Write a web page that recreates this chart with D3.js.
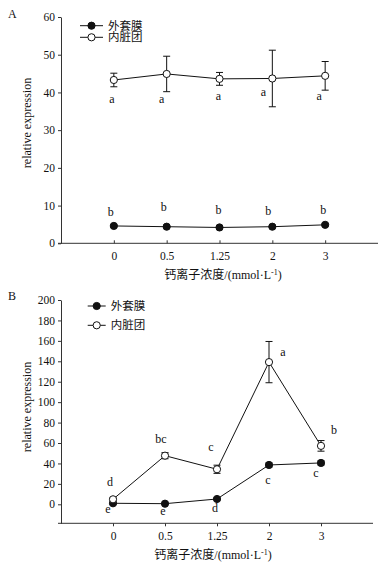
<!DOCTYPE html>
<html>
<head>
<meta charset="utf-8">
<script src="https://cdn.jsdelivr.net/npm/d3@7"></script>
<style>
body { margin: 0; background: #fff; }
svg text { font-family: "Liberation Serif", "Noto Sans CJK SC", serif; fill: #111; }
</style>
</head>
<body>
<div id="chart"></div>
<script>
// 数据
var categories = ["0", "0.5", "1.25", "2", "3"];
var seriesNames = ["外套膜", "内脏团"];

// A
var aMantle = [4.6, 4.4, 4.2, 4.4, 4.9];
var aMantleErr = [0.3, 0.2, 0.2, 0.2, 0.3];
var aMantleLbl = ["b", "b", "b", "b", "b"];
var aVisceral = [43.3, 44.9, 43.6, 43.7, 44.4];
var aVisceralErr = [1.8, 4.7, 1.7, 7.5, 3.8];
var aVisceralLbl = ["a", "a", "a", "a", "a"];
var aTicks = [0, 10, 20, 30, 40, 50, 60];

// B
var bMantle = [1.0, 0.6, 5.2, 38.5, 40.5];
var bMantleErr = [1.0, 0.5, 1.0, 2.0, 2.0];
var bMantleLbl = ["e", "e", "d", "c", "c"];
var bVisceral = [4.9, 47.6, 34.3, 139.2, 57.2];
var bVisceralErr = [1.5, 3.0, 4.0, 20.2, 5.2];
var bVisceralLbl = ["d", "bc", "c", "a", "b"];
var bTicks = [0, 20, 40, 60, 80, 100, 120, 140, 160, 180, 200];

var svg = d3.select("#chart").append("svg")
    .attr("width", 384).attr("height", 564);
svg.append("rect").attr("width", 384).attr("height", 564).attr("fill", "#fff");

function drawPanel(opt) {
    var g = svg.append("g");
    var x = d3.scaleLinear().domain([-1, 5]).range([opt.x0, opt.x1]);
    var y = d3.scaleLinear().domain(opt.yDomain).range([opt.yBottom, opt.yTop]);

    // 坐标轴
    var yAxis = d3.axisLeft(y).tickValues(opt.yTicks).tickSize(3).tickPadding(3).tickSizeOuter(0);
    var gy = g.append("g").attr("transform", "translate(" + opt.x0 + ",0)").call(yAxis);
    gy.selectAll("text").style("font-size", "11.5px");
    var xAxis = d3.axisBottom(x).tickValues([0, 1, 2, 3, 4])
        .tickFormat(function(d) { return categories[d]; })
        .tickSize(opt.xTickIn ? -3 : 3).tickPadding(opt.xTickIn ? 9 : 6).tickSizeOuter(0);
    var gx = g.append("g").attr("transform", "translate(0," + opt.yBottom + ")").call(xAxis);
    gx.selectAll("text").style("font-size", "11.5px");
    gx.select(".domain").attr("d", "M" + (opt.x0 - 3) + ",0H" + opt.x1);
    g.selectAll(".domain, .tick line").attr("stroke", "#333");

    // 轴标题
    g.append("text")
        .attr("transform", "translate(" + opt.yTitleX + "," + opt.yTitleY + ") rotate(-90)")
        .attr("text-anchor", "middle").attr("dy", "0.35em")
        .style("font-size", "12px").text("relative expression");
    var xt = g.append("text").attr("x", opt.xTitleX).attr("y", opt.xTitleY)
        .attr("text-anchor", "middle").style("font-size", "12px");
    xt.append("tspan").text("钙离子浓度/(mmol·L");
    xt.append("tspan").attr("dy", -4).style("font-size", "8px").text("-1");
    xt.append("tspan").attr("dy", 4).text(")");

    g.append("text").attr("x", opt.letterX).attr("y", opt.letterY)
        .style("font-size", "12px").text(opt.letter);

    var line = d3.line().x(function(d, i) { return x(i); }).y(function(d) { return y(d); });

    opt.series.forEach(function(s) {
        var sg = g.append("g");
        sg.append("path").datum(s.values).attr("d", line)
            .attr("fill", "none").attr("stroke", "#111").attr("stroke-width", 1);
        // 误差线
        s.values.forEach(function(v, i) {
            var e = s.err[i];
            var cx = x(i);
            sg.append("path")
                .attr("d", "M" + cx + "," + y(v - e) + "V" + y(v + e) +
                    "M" + (cx - 3.5) + "," + y(v - e) + "H" + (cx + 3.5) +
                    "M" + (cx - 3.5) + "," + y(v + e) + "H" + (cx + 3.5))
                .attr("stroke", "#111").attr("stroke-width", 1).attr("fill", "none");
        });
        sg.selectAll("circle").data(s.values).enter().append("circle")
            .attr("cx", function(d, i) { return x(i); })
            .attr("cy", function(d) { return y(d); })
            .attr("r", 3.6)
            .attr("fill", s.filled ? "#111" : "#fff")
            .attr("stroke", "#111").attr("stroke-width", 1);
        // 显著性字母
        s.labels.forEach(function(t, i) {
            g.append("text").attr("x", x(i) + s.lblDx[i]).attr("y", s.lblY[i])
                .attr("text-anchor", "middle").attr("dy", "0.35em")
                .style("font-size", "12px").text(t);
        });
    });

    // 图例
    opt.series.forEach(function(s, k) {
        var ly = opt.legY[k];
        g.append("line").attr("x1", opt.legX0).attr("x2", opt.legX1)
            .attr("y1", ly).attr("y2", ly).attr("stroke", "#111");
        g.append("circle").attr("cx", (opt.legX0 + opt.legX1) / 2).attr("cy", ly).attr("r", 3.6)
            .attr("fill", s.filled ? "#111" : "#fff").attr("stroke", "#111");
        g.append("text").attr("x", opt.legX1 + 5).attr("y", ly).attr("dy", "0.35em")
            .style("font-size", "11.5px").text(s.name);
    });
}

drawPanel({
    letter: "A", letterX: 8, letterY: 18,
    x0: 61, x1: 378, yBottom: 243.3, yTop: 17, yDomain: [0, 60], yTicks: aTicks,
    xTickIn: true,
    yTitleX: 27, yTitleY: 123, xTitleX: 223, xTitleY: 279,
    legX0: 80, legX1: 103, legY: [25.7, 37.3],
    series: [
        { name: seriesNames[0], values: aMantle, err: aMantleErr, filled: true, labels: aMantleLbl,
          lblDx: [-3, -3, -1, -4, -2], lblY: [212, 206.7, 210, 210.7, 210] },
        { name: seriesNames[1], values: aVisceral, err: aVisceralErr, filled: false, labels: aVisceralLbl,
          lblDx: [-2, -5, -1, -9, -6], lblY: [98.7, 98.7, 95.3, 92, 96] }
    ]
});

drawPanel({
    letter: "B", letterX: 8, letterY: 300,
    x0: 61, x1: 373, yBottom: 523.3, yTop: 300, yDomain: [-18.6, 200], yTicks: bTicks,
    xTickIn: false,
    yTitleX: 27, yTitleY: 407, xTitleX: 213, xTitleY: 559,
    legX0: 87.7, legX1: 105.7, legY: [306, 325.3],
    series: [
        { name: seriesNames[0], values: bMantle, err: bMantleErr, filled: true, labels: bMantleLbl,
          lblDx: [-5, -2, -2, -1, -5], lblY: [509, 510.7, 507.3, 480, 472.7] },
        { name: seriesNames[1], values: bVisceral, err: bVisceralErr, filled: false, labels: bVisceralLbl,
          lblDx: [-3, -4, -6, 14, 13], lblY: [481.7, 438.3, 446.7, 351.7, 429.3] }
    ]
});
</script>
</body>
</html>
